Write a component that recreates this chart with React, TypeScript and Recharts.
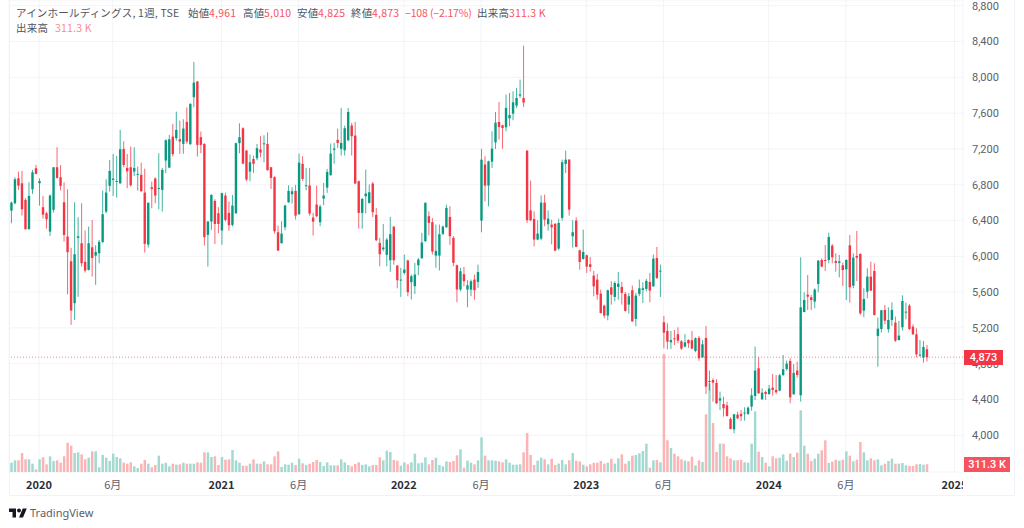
import { Bar, CartesianGrid, Cell, ComposedChart, ReferenceLine, XAxis, YAxis } from "recharts"

const TEAL = "#089981"
const RED = "#f23645"
const TEAL_VOL = "#a3d9d1"
const RED_VOL = "#fbb4b6"

// weekly candles (yen)
const opens = [
  6511,6593,6872,6816,6630,6303,6749,6984,6816,6548,
  6481,6276,6519,6995,6883,6604,6221,5945,5476,6206,
  6146,5938,5848,6101,6008,6034,6161,6500,6787,6854,
  6831,6816,7200,6988,6995,6947,6913,6910,6712,6131,
  6772,6869,6757,6742,7070,6991,7338,7320,7308,7256,
  7502,7253,7778,7953,7331,7256,6240,6389,6619,6482,
  6288,6679,6485,6351,6482,7264,7431,7182,6947,7088,
  7096,7193,7252,7256,6995,6884,6269,6146,6325,6604,
  6694,6731,6470,7033,6787,6791,6433,6578,6381,6645,
  6768,6906,7189,7301,7200,7185,7297,7461,7349,6839,
  6485,6671,6597,6813,6463,6150,6079,6016,5956,6332,
  5897,5733,5815,5953,5711,5666,5900,5979,6169,6448,
  6381,6008,6008,6251,6325,6440,6206,5900,5629,5800,
  5629,5628,5740,5714,6399,7025,6790,7058,7274,7501,
  7464,7442,7542,7594,7684,7795,7769,7181,6514,6417,
  6187,6198,6600,6358,6354,6362,6086,6429,7032,7080,
  6224,6399,6067,5971,6012,5911,5784,5740,5583,5449,
  5338,5654,5546,5658,5658,5580,5460,5621,5300,5580,
  5624,5636,5714,5665,5982,5833,5263,5166,5039,5084,
  5129,5050,4991,5065,5062,4942,5088,4872,5088,4600,
  4618,4585,4388,4350,4335,4183,4067,4231,4239,4246,
  4239,4321,4440,4749,4403,4484,4462,4533,4507,4499,
  4674,4741,4831,4458,4723,4447,5378,5572,5542,5494,
  5691,5959,5959,5959,6119,5948,5926,5900,5855,6123,
  5672,6004,6026,5393,5605,5773,5836,5110,5188,5401,
  5185,5289,5259,5065,5207,5374,5449,5214,5129,4894,
  4868,4961,
]
const highs = [
  6612,6883,6947,6954,6649,6828,6965,7021,6872,6675,
  6496,6690,6995,7219,7018,6828,6749,6094,6604,6437,
  6593,6288,6332,6407,6124,6183,6735,6861,7077,7144,
  7122,7412,7286,7144,7226,7219,7003,7047,6980,6604,
  6835,6883,7152,6988,7308,7356,7480,7617,7517,7532,
  7666,7711,8172,7960,7394,7264,6392,6694,6638,6549,
  6712,6712,6612,6686,7271,7487,7442,7185,7137,7126,
  7256,7342,7353,7386,6999,6895,6344,6392,6578,6794,
  6772,6798,7148,7118,6988,6988,6485,6791,6578,6820,
  6977,7260,7267,7427,7658,7461,7658,7491,7502,6846,
  6653,6969,6802,6831,6541,6206,6362,6206,6440,6336,
  5900,5871,6020,5964,5796,5927,5982,6262,6604,6504,
  6429,6355,6355,6344,6578,6560,6225,5908,5871,5882,
  5733,5740,5796,5907,7200,7118,7069,7397,7613,7725,
  7471,7807,7825,7844,7881,7974,8354,7185,6846,6503,
  6403,6682,6689,6514,6410,6373,6421,7080,7181,7088,
  6403,6436,6075,6298,6019,5993,5837,5803,5628,5460,
  5628,5721,5721,5825,5714,5602,5591,5673,5591,5740,
  5710,5747,5814,6019,6105,5907,5334,5252,5166,5177,
  5207,5065,5132,5073,5166,5095,5110,5065,5222,4723,
  4637,4626,4488,4432,4376,4201,4239,4265,4283,4313,
  4321,4525,4991,4872,4525,4499,4563,4686,4674,4686,
  4898,4835,4861,4797,4823,5989,5598,5792,5568,5643,
  5959,5978,6127,6264,6138,6034,6015,5929,5967,6238,
  6034,6283,6034,5643,5866,5941,5922,5315,5401,5456,
  5430,5486,5326,5278,5564,5482,5468,5240,5196,5065,
  5054,5010,
]
const lows = [
  6370,6582,6742,6455,6300,6300,6697,6917,6567,6422,
  6310,6228,6489,6869,6735,6165,5576,5234,5290,5547,
  5885,5818,5841,5774,5681,5923,6146,6481,6723,6675,
  6656,6809,6995,6761,6779,6898,6735,6723,6042,6098,
  6537,6593,6526,6500,6928,6984,7115,7293,7145,7145,
  7256,7245,7666,7115,7152,6120,5886,6295,6139,6258,
  6128,6389,6284,6333,6474,7152,7029,6839,6839,6932,
  7074,7107,7051,6958,6753,6254,6061,6143,6291,6597,
  6589,6411,6466,6843,6738,6455,6232,6437,6336,6571,
  6709,6902,7036,7211,7126,7126,7286,7126,6809,6310,
  6310,6478,6589,6440,6169,5889,6057,5889,5826,5908,
  5643,5547,5796,5554,5517,5580,5789,5971,6161,6236,
  6020,5871,5841,6236,6318,6128,5889,5487,5610,5666,
  5431,5554,5516,5647,6269,6615,6559,6987,7200,7304,
  7203,7397,7453,7520,7658,7769,7669,6373,6391,6112,
  6179,6179,6336,6287,6134,6056,6067,6399,6931,6455,
  6097,6101,5851,5963,5814,5829,5554,5516,5360,5308,
  5285,5460,5498,5516,5460,5382,5360,5267,5218,5554,
  5479,5609,5487,5658,5747,5546,4972,4961,4965,5009,
  5028,4954,4983,4976,4961,4928,4834,4864,4462,4499,
  4376,4350,4283,4209,4209,4067,4023,4179,4160,4164,
  4227,4276,4395,4462,4395,4395,4451,4443,4462,4492,
  4663,4723,4358,4455,4645,4376,5374,5401,5401,5419,
  5598,5877,5836,5922,5922,5829,5765,5669,5512,5482,
  5643,5724,5345,5319,5531,5613,5337,4767,5147,5240,
  5147,5222,5043,5058,5170,5296,5177,5121,4872,4879,
  4812,4825,
]
const closes = [
  6600,6861,6790,6526,6303,6675,6939,6921,6842,6466,
  6414,6679,6995,6876,6787,6239,6046,5394,6023,6224,
  5923,5841,6146,5982,6049,6161,6470,6712,6954,6869,
  6842,7196,7021,6950,6794,6988,6921,6727,6139,6597,
  6753,6679,6764,6965,7297,7308,7141,7413,7282,7428,
  7282,7703,7941,7245,7245,6214,6389,6686,6362,6362,
  6705,6407,6348,6567,7264,7331,7036,6858,7051,7033,
  7208,7159,7263,6962,6876,6280,6064,6254,6567,6731,
  6727,6455,7047,6865,6794,6478,6388,6448,6556,6679,
  6943,7148,7204,7267,7267,7431,7613,7342,6813,6485,
  6641,6701,6716,6493,6180,6023,6098,6187,6247,5956,
  5733,5740,5852,5599,5778,5796,5964,6154,6597,6373,
  6053,6061,6247,6332,6541,6225,5927,5629,5833,5722,
  5677,5721,5621,5825,7080,6790,7062,7203,7494,7445,
  7434,7658,7579,7721,7769,7810,7717,6403,6403,6187,
  6254,6600,6410,6421,6324,6064,6373,7051,7080,6522,
  6269,6105,5937,6049,5885,5881,5665,5572,5367,5338,
  5621,5572,5702,5695,5591,5390,5554,5274,5561,5643,
  5643,5725,5617,5974,5758,5840,5147,5047,5065,5073,
  5058,4969,5039,5028,4969,5084,4861,5017,4544,4607,
  4589,4358,4414,4302,4216,4071,4235,4190,4213,4254,
  4309,4447,4723,4470,4477,4462,4522,4507,4481,4671,
  4738,4801,4425,4697,4674,5430,5512,5549,5512,5628,
  5952,5885,5952,6216,5989,5926,5944,5847,5959,5654,
  5985,5985,5363,5523,5773,5617,5345,5192,5397,5281,
  5289,5401,5058,5114,5501,5382,5188,5129,4905,4901,
  4987,4873,
]
// thousands of shares
const volumes = [
  373,467,467,760,507,507,333,107,507,587,
  307,627,440,467,373,627,1173,1053,760,787,
  707,507,573,827,827,187,680,573,440,733,
  600,547,373,333,387,227,160,333,480,333,
  187,280,653,333,373,227,333,293,307,373,
  333,333,333,387,373,787,787,600,627,280,
  600,493,507,880,467,373,253,253,333,507,
  333,333,427,307,307,627,827,200,307,293,
  373,280,533,347,280,333,400,480,400,240,
  387,267,267,267,507,387,280,227,320,387,
  280,307,227,280,280,587,467,853,800,480,
  453,253,387,307,387,733,347,373,587,307,
  480,573,280,227,427,400,440,667,907,173,
  453,373,307,467,1387,653,467,467,453,427,
  387,507,373,293,293,307,787,1560,680,280,
  453,573,507,307,533,280,333,480,307,467,
  760,453,427,293,227,307,373,373,440,333,
  373,533,333,547,707,333,440,653,680,747,
  840,1133,173,467,480,387,4720,1267,960,733,
  627,507,453,427,613,267,467,400,2307,3547,
  1960,800,1133,1133,627,547,467,467,480,387,
  373,1133,2427,813,600,373,227,627,547,573,
  707,453,733,600,773,2467,1053,733,440,533,
  733,867,1267,360,413,493,453,493,827,653,
  427,493,1200,787,467,547,467,507,267,333,
  440,533,333,333,360,267,240,240,307,320,
  293,311.3,
]

const priceTicks = [4000, 4400, 4800, 5200, 5600, 6000, 6400, 6800, 7200, 7600, 8000, 8400, 8800]
const timeTicks = [8, 29, 60, 82, 112, 134, 164, 186, 216, 238, 269]
const timeLabels = ["2020", "6月", "2021", "6月", "2022", "6月", "2023", "6月", "2024", "6月", "2025"]

const lastClose = 4873

const candles = opens.map((open, index) => ({
  index,
  open,
  high: highs[index],
  low: lows[index],
  close: closes[index],
  volume: volumes[index],
}))

function Candle(props: any) {
  const { x, y, width, height, payload } = props
  if (!payload) return null
  const { open, high, low, close } = payload
  const perYen = height / (high - low)
  const yOf = (v: number) => y + (high - v) * perYen
  const color = close >= open ? TEAL : RED
  const cx = x + width / 2
  const top = yOf(Math.max(open, close))
  const bodyH = Math.max(yOf(Math.min(open, close)) - top, 1)
  return (
    <g>
      <rect x={cx - 0.5} y={y} width={1} height={height} fill={color} fillOpacity={0.75} />
      <rect x={x} y={top} width={width} height={bodyH} fill={color} />
    </g>
  )
}

function TimeTick(props: any) {
  const { x, y, payload } = props
  const label = timeLabels[timeTicks.indexOf(payload.value)]
  const isYear = label.length === 4
  return (
    <text
      x={x}
      y={y + 9}
      textAnchor="middle"
      fontFamily="'Noto Sans CJK JP', 'Noto Sans', sans-serif"
      fontSize={11}
      fontWeight={isYear ? 600 : 400}
      fill={isYear ? "#2a2e39" : "#5d606b"}
    >
      {label}
    </text>
  )
}

const HEADER_FONT = "'Noto Sans CJK JP', 'Noto Sans', sans-serif"

function HeaderText({
  x,
  y,
  color,
  spacing,
  children,
}: {
  x: number
  y: number
  color?: string
  spacing?: number
  children: string
}) {
  return (
    <span
      style={{
        position: "absolute",
        left: x,
        top: y,
        fontSize: 10.5,
        lineHeight: "16px",
        letterSpacing: spacing ?? 0.2,
        whiteSpace: "nowrap",
        color: color ?? "#50535e",
        fontFamily: HEADER_FONT,
      }}
    >
      {children}
    </span>
  )
}

export default function App() {
  return (
    <div
      style={{
        position: "absolute",
        left: 0,
        top: 0,
        width: 1024,
        height: 528,
        background: "#fff",
        overflow: "hidden",
      }}
    >
      <ComposedChart
        width={1024}
        height={528}
        data={candles}
        margin={{ top: 0, right: 10, bottom: 32, left: 9 }}
      >
        <CartesianGrid xAxisId="price" yAxisId="price" stroke="#f3f4f8" />
        <XAxis
          xAxisId="price"
          type="number"
          dataKey="index"
          domain={[-0.57, 271.4]}
          allowDataOverflow
          ticks={timeTicks}
          interval={0}
          tick={TimeTick}
          tickLine={false}
          axisLine={false}
          height={24}
        />
        <XAxis xAxisId="vol" type="number" dataKey="index" domain={[-0.57, 271.4]} allowDataOverflow hide />
        <YAxis
          yAxisId="price"
          orientation="right"
          domain={[3590, 8864]}
          allowDataOverflow
          ticks={priceTicks}
          interval={0}
          width={51}
          tickFormatter={(v: number) => v.toLocaleString("en-US")}
          tick={{ fontSize: 11, fill: "#5d606b", fontFamily: "Roboto, sans-serif" }}
          tickLine={false}
          axisLine={false}
          tickMargin={3}
        />
        <YAxis yAxisId="vol" orientation="left" domain={[0, 18880]} allowDataOverflow hide />
        <Bar xAxisId="vol" yAxisId="vol" dataKey="volume" barSize={2.5} isAnimationActive={false}>
          {candles.map((c) => (
            <Cell key={c.index} fill={c.close >= c.open ? TEAL_VOL : RED_VOL} />
          ))}
        </Bar>
        <ReferenceLine
          xAxisId="price"
          yAxisId="price"
          y={lastClose}
          stroke={RED}
          strokeOpacity={0.6}
          strokeDasharray="1 2"
          strokeWidth={1}
        />
        <Bar
          xAxisId="price"
          yAxisId="price"
          dataKey={(d: any) => [d.low, d.high]}
          barSize={2.4}
          shape={Candle}
          isAnimationActive={false}
        />
      </ComposedChart>

      {/* clips the 2025 label where the time scale meets the price scale */}
      <div style={{ position: "absolute", left: 963, top: 473, width: 50, height: 22, background: "#fff" }} />
      {/* chart frame */}
      <div
        style={{
          position: "absolute",
          left: 9,
          top: 0,
          width: 1004,
          height: 495,
          borderLeft: "1px solid #f0f3fa",
          borderRight: "1px solid #f0f3fa",
          borderBottom: "1px solid #f0f3fa",
        }}
      />

      <HeaderText x={16} y={5}>アインホールディングス, 1週, TSE</HeaderText>
      <HeaderText x={188} y={5}>始値</HeaderText>
      <HeaderText x={209} y={5} color="#f7525f">4,961</HeaderText>
      <HeaderText x={243} y={5}>高値</HeaderText>
      <HeaderText x={264} y={5} color="#f7525f">5,010</HeaderText>
      <HeaderText x={297} y={5}>安値</HeaderText>
      <HeaderText x={318} y={5} color="#f7525f">4,825</HeaderText>
      <HeaderText x={351} y={5}>終値</HeaderText>
      <HeaderText x={372} y={5} color="#f7525f">4,873</HeaderText>
      <HeaderText x={405} y={5} color="#f7525f" spacing={-0.15}>−108 (−2.17%)</HeaderText>
      <HeaderText x={477} y={5}>出来高</HeaderText>
      <HeaderText x={509} y={5} color="#f7525f">311.3 K</HeaderText>
      <HeaderText x={16} y={20}>出来高</HeaderText>
      <HeaderText x={55} y={20} color="#f98c90">311.3 K</HeaderText>

      <div
        style={{
          position: "absolute",
          left: 964,
          top: 350,
          width: 39,
          height: 15,
          background: RED,
          color: "#fff",
          fontSize: 11,
          fontWeight: 500,
          lineHeight: "15px",
          textAlign: "center",
          fontFamily: "Roboto, sans-serif",
        }}
      >
        4,873
      </div>
      <div
        style={{
          position: "absolute",
          left: 964,
          top: 457,
          width: 46,
          height: 15,
          background: "#f7525f",
          color: "#fff",
          fontSize: 11,
          fontWeight: 500,
          lineHeight: "15px",
          textAlign: "center",
          fontFamily: "Roboto, sans-serif",
        }}
      >
        311.3 K
      </div>

      <svg style={{ position: "absolute", left: 9, top: 505 }} width={18} height={14} viewBox="0 0 36 28">
        <path d="M14 25H7V14H0V7h14v18zM28 25h-8l7.5-18h8L28 25z" fill="#131722" />
        <circle cx="20" cy="11" r="4" fill="#131722" />
      </svg>
      <div
        style={{
          position: "absolute",
          left: 30,
          top: 505,
          fontSize: 11,
          lineHeight: "16px",
          color: "#5d606b",
          fontFamily: "'Noto Sans', sans-serif",
        }}
      >
        TradingView
      </div>
    </div>
  )
}
